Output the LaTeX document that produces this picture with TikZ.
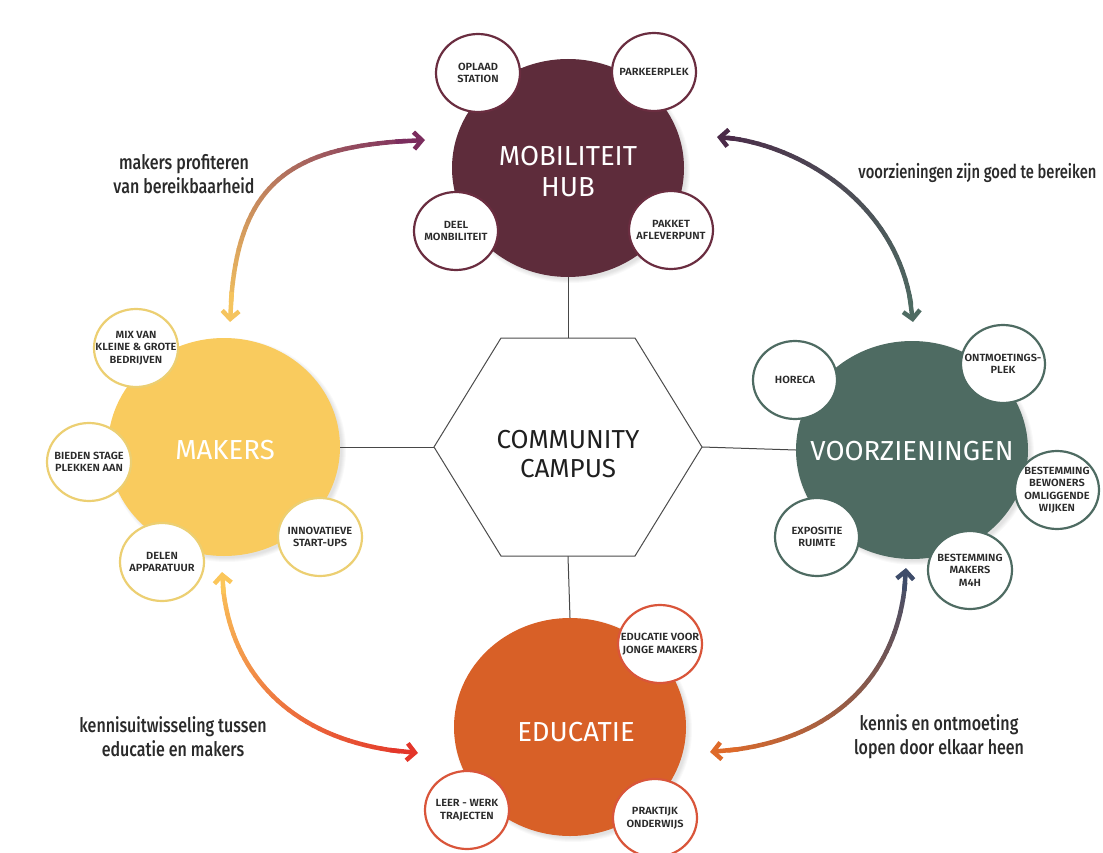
\documentclass[tikz,border=0pt]{standalone}
\usepackage{fontspec}
\setmainfont{Fira Sans}
\newfontfamily\labfont[FakeStretch=0.8,UprightFont={* Medium}]{Fira Sans}
\newfontfamily\labfontn[FakeStretch=0.775,UprightFont={* Medium}]{Fira Sans}
\newfontfamily\subfont[FakeStretch=1.06,UprightFont={* SemiBold}]{Fira Sans}
\usetikzlibrary{shapes.geometric,arrows.meta,calc}
\definecolor{mobc}{HTML}{5E2C3B}
\definecolor{mobb}{HTML}{6A2D40}
\definecolor{makc}{HTML}{F9CB5E}
\definecolor{makb}{HTML}{ECCF72}
\definecolor{vooc}{HTML}{4E6B62}
\definecolor{educ}{HTML}{D86027}
\definecolor{edub}{HTML}{D9553A}
\definecolor{txt}{HTML}{2A2A2A}
\definecolor{lbl}{HTML}{2A2A2A}
\definecolor{a1s}{HTML}{F5C45E}
\definecolor{a1e}{HTML}{7B2D5E}
\definecolor{a2s}{HTML}{4B2A48}
\definecolor{a2e}{HTML}{4E6B62}
\definecolor{a3s}{HTML}{FBC65A}
\definecolor{a3e}{HTML}{E3362A}
\definecolor{a4s}{HTML}{3E4C6A}
\definecolor{a4e}{HTML}{DE6A2A}
\newcommand\gradarrow[6]{%
  \foreach \i in {0,...,40}{%
    \pgfmathsetmacro\tpar{\i/40}
    \coordinate (q1) at ($(#1)!\tpar!(#2)$);
    \coordinate (q2) at ($(#2)!\tpar!(#3)$);
    \coordinate (q3) at ($(#3)!\tpar!(#4)$);
    \coordinate (r1) at ($(q1)!\tpar!(q2)$);
    \coordinate (r2) at ($(q2)!\tpar!(q3)$);
    \coordinate (#1p\i) at ($(r1)!\tpar!(r2)$);
  }
  \foreach \i [evaluate=\i as \j using int(\i+1), evaluate=\i as \pc using 100-2.5*(\i+0.5)] in {2,...,37}{%
    \draw[line width=4.5pt, line cap=round, color=#5!\pc!#6] (#1p\i) -- (#1p\j);
  }
  \draw[line width=4.5pt, color=#5, -{Straight Barb[length=8pt,width=17pt]}] (#1p3) -- (#1p0);
  \draw[line width=4.5pt, color=#6, -{Straight Barb[length=8pt,width=17pt]}] (#1p37) -- (#1p40);
}
% sub circle: name, position, border colour, text
\newcommand\subcircle[4]{%
  \node[subc=#3] (#1) at (#2) {};
  \node[subtxt] (#1-t) at (#1.center) {#4};
}
% soft shadow of a main circle
\newcommand\softshadow[1]{%
  \foreach \k in {1,...,5}{%
    \fill[black, opacity=0.025] ($(#1)+(3,3)$) ellipse [x radius=114+\k, y radius=107+\k];
  }
}
\begin{document}
\begin{tikzpicture}[x=1pt,y=-1pt,
  mainc/.style={ellipse, minimum width=232pt, minimum height=218pt, inner sep=0pt},
  maintxt/.style={text=white, align=center, inner sep=0pt, font=\fontsize{27.5}{31}\selectfont},
  subc/.style={ellipse, draw=#1, fill=white, line width=2.2pt, minimum width=84pt,
    minimum height=78pt, inner sep=0pt},
  subtxt/.style={align=center, text=txt, inner sep=0pt,
    font=\subfont\fontsize{10.4}{12.5}\selectfont},
  conn/.style={line width=1pt, draw=black!72},
  lab/.style={align=center, text=lbl, font=\labfont\fontsize{20}{24}\selectfont}
]
\useasboundingbox (0,0) rectangle (1103,853);
\clip (0,0) rectangle (1103,853);

% hexagon corners
\coordinate (hL) at (434,447);
\coordinate (hR) at (702,447);
\coordinate (hTL) at (501,338);
\coordinate (hTR) at (635,338);
\coordinate (hBL) at (501,556);
\coordinate (hBR) at (635,556);
\coordinate (hT) at (568,338);
\coordinate (hB) at (568,556);

% circle centres
\coordinate (cmob) at (568,168);
\coordinate (cmak) at (224,447);
\coordinate (cvoo) at (912,450);
\coordinate (cedu) at (570,727);
\softshadow{cmob}
\softshadow{cmak}
\softshadow{cvoo}
\softshadow{cedu}

% main circles
\node[mainc, fill=mobc] (mob) at (cmob) {};
\node[mainc, fill=makc] (mak) at (cmak) {};
\node[mainc, fill=vooc] (voo) at (cvoo) {};
\node[mainc, fill=educ] (edu) at (cedu) {};
\node[maintxt] (mob-t) at ($(mob.center)+(0,4)$) {MOBILITEIT\\HUB};
\node[maintxt] (mak-t) at ($(mak.center)+(1,3)$) {MAKERS};
\node[maintxt] (voo-t) at ($(voo.center)+(0,1)$) {VOORZIENINGEN};
\node[maintxt] (edu-t) at ($(edu.center)+(6,5)$) {EDUCATIE};

% connectors to hexagon
\draw[conn] (mob.south) -- (hT);
\draw[conn] (edu.north) -- (hB);
\draw[conn] (mak.east) -- (hL);
\draw[conn] (voo.west) -- (hR);

% hexagon
\draw[fill=white, draw=black!70, line width=1pt] (hL) -- (hTL) -- (hTR) -- (hR) -- (hBR) -- (hBL) -- cycle;
\node[align=center, text=black!88, font=\fontsize{26}{29}\selectfont] (hex) at (568,454) {COMMUNITY\\CAMPUS};

% sub circles mobiliteit
\subcircle{m1}{478,73}{mobb}{OPLAAD\\STATION}
\subcircle{m2}{654,72}{mobb}{PARKEERPLEK}
\subcircle{m3}{456,231}{mobb}{DEEL\\MONBILITEIT}
\subcircle{m4}{671,230}{mobb}{PAKKET\\AFLEVERPUNT}

% sub circles makers
\subcircle{k1}{136,348}{makb}{MIX VAN\\KLEINE \& GROTE\\BEDRIJVEN}
\subcircle{k2}{89,462}{makb}{BIEDEN STAGE\\PLEKKEN AAN}
\subcircle{k3}{162,562}{makb}{DELEN\\APPARATUUR}
\subcircle{k4}{320,537}{makb}{INNOVATIEVE\\START-UPS}

% sub circles voorzieningen
\subcircle{v1}{795,380}{vooc}{HORECA}
\subcircle{v2}{1003,364}{vooc}{ONTMOETINGS-\\PLEK}
\subcircle{v3}{1057,490}{vooc}{BESTEMMING\\BEWONERS\\OMLIGGENDE\\WIJKEN}
\subcircle{v4}{817,537}{vooc}{EXPOSITIE\\RUIMTE}
\subcircle{v5}{970,570}{vooc}{BESTEMMING\\MAKERS\\M4H}

% sub circles educatie
\subcircle{e1}{660,644}{edub}{EDUCATIE VOOR\\JONGE MAKERS}
\subcircle{e2}{467,810}{edub}{LEER - WERK\\TRAJECTEN}
\subcircle{e3}{655,818}{edub}{PRAKTIJK\\ONDERWIJS}

% gradient arrows
\coordinate (A) at (230,322);  \coordinate (A1) at (234,180);
\coordinate (A2) at (290,145); \coordinate (A3) at (425,140);
\gradarrow{A}{A1}{A2}{A3}{a1s}{a1e}

\coordinate (B) at (717,137);  \coordinate (B1) at (790,140);
\coordinate (B2) at (905,200); \coordinate (B3) at (913,322);
\gradarrow{B}{B1}{B2}{B3}{a2s}{a2e}

\coordinate (C) at (222,572);  \coordinate (C1) at (225,670);
\coordinate (C2) at (290,745); \coordinate (C3) at (418,753);
\gradarrow{C}{C1}{C2}{C3}{a3s}{a3e}

\coordinate (D) at (906,568);  \coordinate (D1) at (903,670);
\coordinate (D2) at (838,745); \coordinate (D3) at (710,752);
\gradarrow{D}{D1}{D2}{D3}{a4s}{a4e}

% arrow labels
\node[lab] (l1) at (184,174) {makers profiteren\\van bereikbaarheid};
\node[lab, anchor=east, font=\labfontn\fontsize{19}{24}\selectfont] (l2) at (1100,173) {voorzieningen zijn goed te bereiken};
\node[lab] (l3) at (173,737) {kennisuitwisseling tussen\\educatie en makers};
\node[lab] (l4) at (939,737) {kennis en ontmoeting\\lopen door elkaar heen};
\end{tikzpicture}
\end{document}
